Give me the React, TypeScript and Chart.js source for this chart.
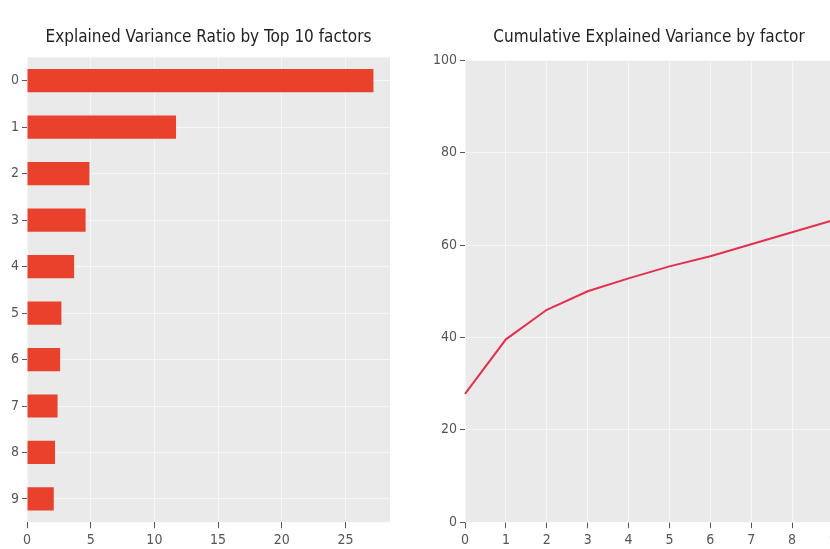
import React, { useEffect, useRef } from "react";
import { Chart, registerables } from "chart.js";

Chart.register(...registerables);

const factorLabels = ["0", "1", "2", "3", "4", "5", "6", "7", "8", "9"];
const varianceRatio = [27.2, 11.7, 4.9, 4.6, 3.7, 2.7, 2.6, 2.4, 2.2, 2.1];
const cumulativeVariance = [27.8, 39.6, 46.0, 50.0, 52.8, 55.4, 57.6, 60.2, 62.8, 65.4];
const barTickValues = [0, 5, 10, 15, 20, 25];
const lineYTickValues = [0, 20, 40, 60, 80, 100];

const FONT = "'DejaVu Sans Condensed', 'Liberation Sans Narrow', 'DejaVu Sans', sans-serif";
const PANEL_BG = "#EAEAEA";
const TICK_COLOR = "#555555";
const GRID_COLOR = "rgba(255,255,255,0.55)";

const bgPlugin = {
  id: "panelBg",
  beforeDraw(chart: any) {
    const { ctx, chartArea } = chart;
    if (!chartArea) return;
    ctx.save();
    ctx.fillStyle = PANEL_BG;
    ctx.fillRect(chartArea.left, chartArea.top, chartArea.right - chartArea.left, chartArea.bottom - chartArea.top);
    ctx.restore();
  },
};

export default function App() {
  const leftRef = useRef<HTMLCanvasElement>(null);
  const rightRef = useRef<HTMLCanvasElement>(null);

  useEffect(() => {
    document.body.style.margin = "0";
    const left = new Chart(leftRef.current!, {
      type: "bar",
      data: {
        labels: factorLabels,
        datasets: [
          {
            data: varianceRatio,
            backgroundColor: "#E8412C",
            borderWidth: 0,
            barPercentage: 0.5,
            categoryPercentage: 1,
          },
        ],
      },
      options: {
        indexAxis: "y",
        animation: false,
        responsive: false,
        devicePixelRatio: 1,
        layout: { padding: { left: 8, right: 25, top: 27, bottom: 12 } },
        plugins: {
          legend: { display: false },
          tooltip: { enabled: false },
          title: {
            display: true,
            text: "Explained Variance Ratio by Top 10 factors",
            fullSize: false,
            color: "#222222",
            font: { family: FONT, size: 17, weight: "normal" },
            padding: { top: 0, bottom: 10 },
          },
        },
        scales: {
          x: {
            type: "linear",
            min: 0,
            max: 28.5,
            afterBuildTicks: (scale: any) => {
              scale.ticks = barTickValues.map((v) => ({ value: v }));
            },
            border: { display: false },
            grid: { color: GRID_COLOR, lineWidth: 1, tickColor: TICK_COLOR, tickLength: 6 },
            ticks: { color: TICK_COLOR, font: { family: FONT, size: 14 }, padding: 4 },
          },
          y: {
            type: "category",
            border: { display: false },
            grid: { color: GRID_COLOR, lineWidth: 1, tickColor: TICK_COLOR, tickLength: 5, offset: false },
            ticks: { color: TICK_COLOR, font: { family: FONT, size: 14 }, padding: 3 },
          },
        },
      },
      plugins: [bgPlugin],
    } as any);

    const right = new Chart(rightRef.current!, {
      type: "line",
      data: {
        labels: factorLabels,
        datasets: [
          {
            data: cumulativeVariance,
            borderColor: "#E2304F",
            borderWidth: 2,
            pointRadius: 0,
            fill: false,
            tension: 0,
          },
        ],
      },
      options: {
        animation: false,
        responsive: false,
        devicePixelRatio: 1,
        layout: { padding: { left: 15, right: 0, top: 27, bottom: 12 } },
        plugins: {
          legend: { display: false },
          tooltip: { enabled: false },
          title: {
            display: true,
            text: "Cumulative Explained Variance by factor",
            fullSize: false,
            color: "#222222",
            font: { family: FONT, size: 17, weight: "normal" },
            padding: { top: 0, bottom: 13 },
          },
        },
        scales: {
          x: {
            type: "category",
            offset: false,
            border: { display: false },
            grid: { color: GRID_COLOR, lineWidth: 1, tickColor: TICK_COLOR, tickLength: 6 },
            ticks: { color: TICK_COLOR, font: { family: FONT, size: 14 }, padding: 4, maxRotation: 0 },
          },
          y: {
            type: "linear",
            min: 0,
            max: 100,
            afterBuildTicks: (scale: any) => {
              scale.ticks = lineYTickValues.map((v) => ({ value: v }));
            },
            border: { display: false },
            grid: { color: GRID_COLOR, lineWidth: 1, tickColor: TICK_COLOR, tickLength: 5 },
            ticks: { color: TICK_COLOR, font: { family: FONT, size: 14 }, padding: 3 },
          },
        },
      },
      plugins: [bgPlugin],
    } as any);

    return () => {
      left.destroy();
      right.destroy();
    };
  }, []);

  return (
    <div style={{ position: "absolute", left: 0, top: 0, width: 830, height: 549, overflow: "hidden", background: "#fff" }}>
      <canvas ref={leftRef} width={415} height={565} style={{ position: "absolute", left: 0, top: 0 }} />
      <canvas ref={rightRef} width={426} height={565} style={{ position: "absolute", left: 415, top: 0 }} />
    </div>
  );
}
